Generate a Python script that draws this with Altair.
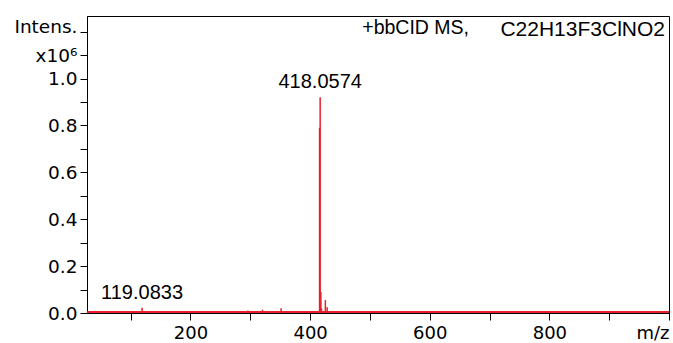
import altair as alt
import pandas as pd

# peak list (m/z, intensity in 1e6 counts)
mz = [119.08, 217.0, 231.0, 248.6, 296.0, 320.5, 351.5, 384.0,
      415.8, 416.8, 418.0, 419.0, 425.5, 428.5]
intensity = [0.022, 0.004, 0.004, 0.006, 0.011, 0.014, 0.020, 0.007,
             0.79, 0.92, 0.09, 0.02, 0.055, 0.025]

label_mz = [119.08, 416.8]
label_int = [0.022, 0.92]
label_text = ["119.0833", "418.0574"]

title_right = "C22H13F3ClNO2"
title_left = "+bbCID MS,"

x_domain = [27, 1000]
y_domain = [0, 1.267]
y_ticks = [0.0, 0.1, 0.2, 0.3, 0.4, 0.5, 0.6, 0.7, 0.8, 0.9, 1.0, 1.1, 1.2]
x_ticks = [100, 200, 300, 400, 500, 600, 700, 800, 900, 1000]

RED = "#e8202a"

peaks = pd.DataFrame({"mz": mz, "i": intensity})
labels = pd.DataFrame({"mz": label_mz, "i": label_int, "t": label_text})
hdr = pd.DataFrame({"mz": [x_domain[1]], "i": [y_domain[1]],
                    "a": [title_left], "b": [title_right]})

x_scale = alt.Scale(domain=x_domain, nice=False, zero=False)
y_scale = alt.Scale(domain=y_domain, nice=False)

x_axis = alt.Axis(values=x_ticks, tickCount=10, title=None, grid=False,
                  labelExpr="datum.value == 1000 ? 'm/z' : (datum.value % 200 == 0 ? datum.value : '')",
                  labelFlush=True, labelOverlap=False, tickSize=7, labelPadding=4,
                  labelFont="DejaVu Sans", labelFontSize=18,
                  labelColor="#000", tickColor="#000", domainColor="#000")
y_axis = alt.Axis(values=y_ticks, tickCount=13, title=None, grid=False,
                  labelExpr="datum.value > 1.15 ? 'Intens.' : (datum.value > 1.05 ? 'x10\u2076' : (round(datum.value*10) % 2 == 0 ? format(datum.value, '.1f') : ''))",
                  labelOffset={"condition": {"test": "datum.value > 1.15", "value": -5}, "value": 0},
                  labelOverlap=False, labelBound=False, tickSize=7, labelPadding=3,
                  labelFont="DejaVu Sans", labelFontSize=18.5,
                  labelColor="#000", tickColor="#000", domainColor="#000")

x_enc = alt.X("mz:Q", scale=x_scale, axis=x_axis)
y_enc = alt.Y("i:Q", scale=y_scale, axis=y_axis)

sticks = alt.Chart(peaks).mark_rule(color=RED, strokeWidth=1.5).encode(
    x=x_enc, y=y_enc, y2=alt.datum(0)
)

baseline = alt.Chart(peaks).mark_rule(color=RED, strokeWidth=1, yOffset=-1).encode(
    x=alt.XDatum(x_domain[0], scale=x_scale, axis=x_axis),
    x2=alt.datum(x_domain[1]),
    y=alt.YDatum(0, scale=y_scale, axis=y_axis),
)

peak_labels = alt.Chart(labels).mark_text(
    font="Liberation Sans", fontSize=20, baseline="bottom", align="center", dy=-5, color="#000"
).encode(x=x_enc, y=y_enc, text="t:N")

hdr_right = alt.Chart(hdr).mark_text(
    font="Liberation Sans", fontSize=21, baseline="top", align="right", dx=-4, dy=3, color="#000"
).encode(x=x_enc, y=y_enc, text="b:N")
hdr_left = alt.Chart(hdr).mark_text(
    font="Liberation Sans", fontSize=19.5, baseline="top", align="right", dx=-200, dy=3, color="#000"
).encode(x=x_enc, y=y_enc, text="a:N")

chart = alt.layer(sticks, baseline, peak_labels, hdr_right, hdr_left).properties(
    width=582, height=297,
    padding={"left": 87, "top": 16, "right": 4, "bottom": 30},
    autosize=alt.AutoSizeParams(type="none"),
    background="white",
).configure_view(stroke="#000", strokeWidth=1)

chart.save("out.html", embed_options={"renderer": "svg", "actions": False})
